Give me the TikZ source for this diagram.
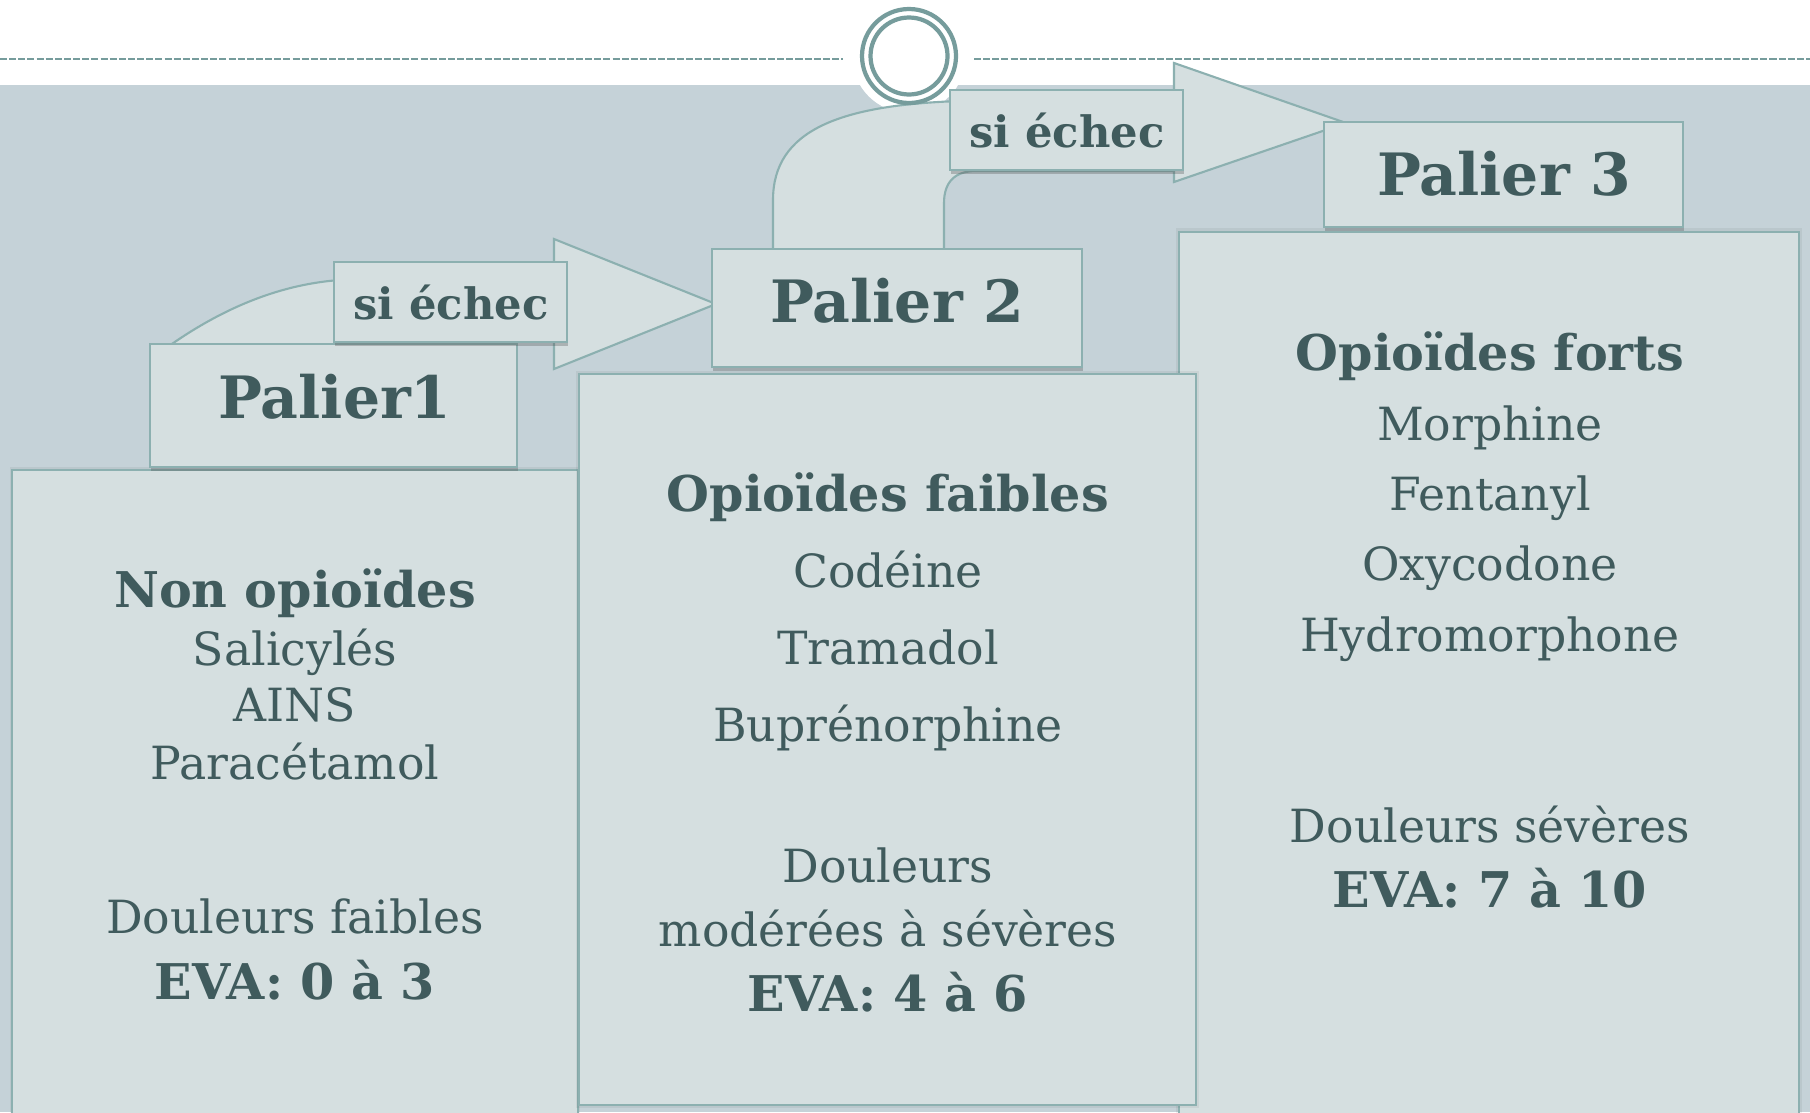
\documentclass[tikz,border=0pt]{standalone}
\usepackage{fontspec}
\setmainfont{DejaVu Serif}
\usetikzlibrary{shadows}
\definecolor{bandc}{HTML}{C5D2D8}
\definecolor{boxc}{HTML}{D5DFE0}
\definecolor{edgec}{HTML}{8CB0B0}
\definecolor{ringc}{HTML}{769C9C}
\definecolor{txtc}{HTML}{405B5D}
\begin{document}
\begin{tikzpicture}[x=0.01cm,y=-0.01cm,
  boxst/.style={draw=edgec, fill=boxc, line width=0.6pt, inner sep=0, rectangle},
  shad/.style={drop shadow={shadow xshift=0.3pt, shadow yshift=-1.2pt, opacity=0.3, fill=black!70}},
  glow/.style={general shadow={fill=black, opacity=0.05, shadow scale=1.008}},
  txt/.style={text=txtc, font=\fontsize{13}{16}\selectfont, anchor=base, inner sep=0},
  btxt/.style={text=txtc, font=\fontsize{14}{17}\selectfont\bfseries, anchor=base, inner sep=0},
  hdr/.style={text=txtc, font=\fontsize{16.6}{20}\selectfont\bfseries, anchor=base, inner sep=0},
  lbl/.style={text=txtc, font=\fontsize{12.3}{15}\selectfont\bfseries, anchor=base, inner sep=0},
  arrowshape/.style={draw=edgec, fill=boxc, line width=0.6pt, line join=miter},
  dashline/.style={draw=ringc, line width=0.45pt, dash pattern=on 2pt off 0.6pt},
  ring/.style={draw=ringc, line width=1.2pt}
]
\useasboundingbox (0,0) rectangle (1810,1112);
\clip (0,0) rectangle (1810,1112);
% background
\fill[white] (0,0) rectangle (1810,1112);
\fill[bandc] (0,85) rectangle (1810,1112);
% dashed rule
\draw[dashline] (0,59) -- (843,59);
\draw[dashline] (974,59) -- (1810,59);
% white disc
\fill[white] (909,56) circle[radius=57];
% content boxes
\node[boxst, glow, minimum width=6.20cm, minimum height=8.98cm] (c3) at (1489,681) {};
\node[boxst, glow, minimum width=5.66cm, minimum height=6.60cm] (c1) at (295,800) {};
\node[boxst, glow, minimum width=6.17cm, minimum height=7.31cm] (c2) at (887.5,739.5) {};
% arrows
\draw[arrowshape] (162,351) .. controls (210,316) and (270,285) .. (340,280)
  -- (554,280) -- (554,239) -- (716,304) -- (554,369) -- (554,338)
  -- (345,338) -- (345,352) -- cycle;
\draw[arrowshape] (773,255) -- (773,200) .. controls (773,130) and (840,105) .. (960,101)
  -- (1174,101) -- (1174,63) -- (1346,123) -- (1174,182) -- (1174,171)
  -- (976,171) .. controls (955,171) and (944,182) .. (944,203) -- (944,255) -- cycle;
% headers
\node[boxst, shad, minimum width=3.67cm, minimum height=1.23cm] (p1) at (333.5,405.5) {};
\node[boxst, shad, minimum width=3.70cm, minimum height=1.18cm] (p2) at (897,308) {};
\node[boxst, shad, minimum width=3.59cm, minimum height=1.05cm] (p3) at (1503.5,174.5) {};
\node[hdr] (p1t) at (335,418) {Palier1};
\node[hdr] (p2t) at (897,322) {Palier 2};
\node[hdr] (p3t) at (1504,195) {Palier 3};
% labels
\node[boxst, shad, minimum width=2.33cm, minimum height=0.80cm] (s1) at (450.5,302) {};
\node[boxst, shad, minimum width=2.33cm, minimum height=0.80cm] (s2) at (1066.5,130) {};
\node[lbl] (s1t) at (451,319) {si échec};
\node[lbl] (s2t) at (1067,147) {si échec};
% ring
\draw[ring] (909,56) circle[radius=47];
\draw[ring] (909,56) circle[radius=38.5];
% texts box 1
\node[btxt] (a1) at (295,607) {Non opioïdes};
\node[txt] (a2) at (295,665) {Salicylés};
\node[txt] (a3) at (295,721) {AINS};
\node[txt] (a4) at (295,779) {Paracétamol};
\node[txt] (a5) at (295,933) {Douleurs faibles};
\node[btxt] (a6) at (295,999) {EVA: 0 à 3};
% texts box 2
\node[btxt] (b1) at (888,511) {Opioïdes faibles};
\node[txt] (b2) at (888,587) {Codéine};
\node[txt] (b3) at (888,664) {Tramadol};
\node[txt] (b4) at (888,741) {Buprénorphine};
\node[txt] (b5) at (888,882) {Douleurs};
\node[txt] (b6) at (888,946) {modérées à sévères};
\node[btxt] (b7) at (888,1011) {EVA: 4 à 6};
% texts box 3
\node[btxt] (d1) at (1490,370) {Opioïdes forts};
\node[txt] (d2) at (1490,440) {Morphine};
\node[txt] (d3) at (1490,510) {Fentanyl};
\node[txt] (d4) at (1490,580) {Oxycodone};
\node[txt] (d5) at (1490,651) {Hydromorphone};
\node[txt] (d6) at (1490,842) {Douleurs sévères};
\node[btxt] (d7) at (1490,907) {EVA: 7 à 10};
\end{tikzpicture}
\end{document}
